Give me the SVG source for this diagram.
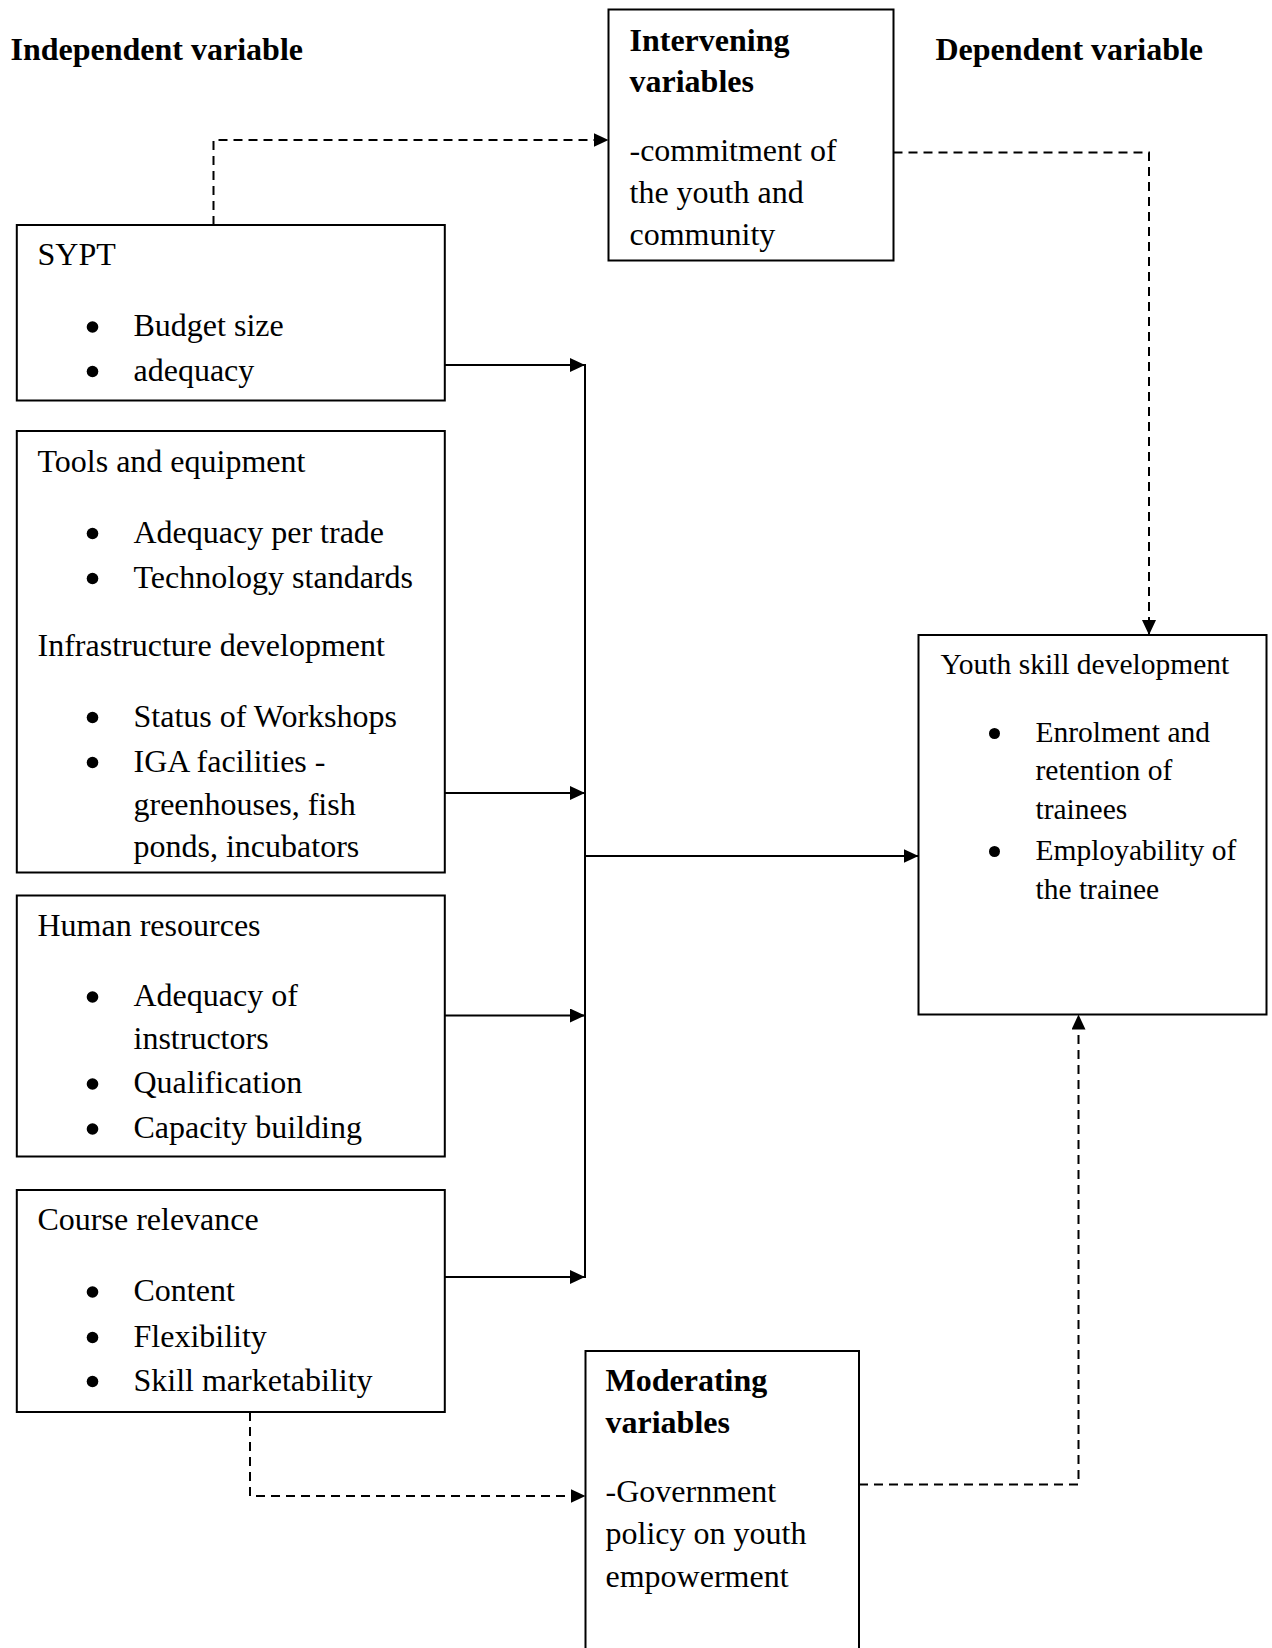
<svg xmlns="http://www.w3.org/2000/svg" width="1272" height="1648" viewBox="0 0 1272 1648">
<style>
text{font-family:"Liberation Serif","Times New Roman",serif;font-size:32px;fill:#000}
.b{font-weight:bold}
.sm{font-size:29.5px}
.dot{fill:#000}
.box{fill:#fff;stroke:#000;stroke-width:2}
.solid{fill:none;stroke:#000;stroke-width:2}
.dash{fill:none;stroke:#000;stroke-width:2;stroke-dasharray:9 6}
</style>
<defs>
<marker id="arr" markerUnits="userSpaceOnUse" markerWidth="16" markerHeight="15" refX="15" refY="7" orient="auto">
<path d="M0,0 L15,7 L0,14 z" fill="#000"/>
</marker>
</defs>
<rect width="1272" height="1648" fill="#fff"/>
<g id="headers">
<text class="b" x="10.5" y="60">Independent variable</text>
<text class="b" x="935.5" y="60">Dependent variable</text>
</g>
<g id="connectors">
<path class="solid" d="M445,365 H585" marker-end="url(#arr)"/>
<path class="solid" d="M445,793 H585" marker-end="url(#arr)"/>
<path class="solid" d="M445,1015.5 H585" marker-end="url(#arr)"/>
<path class="solid" d="M445,1277 H585" marker-end="url(#arr)"/>
<path class="solid" d="M585,364 V1278"/>
<path class="solid" d="M585,856 H918.5" marker-end="url(#arr)"/>
<path class="dash" d="M213.5,225 V140 H608.5" marker-end="url(#arr)"/>
<path class="dash" d="M893.5,152.5 H1149 V635" marker-end="url(#arr)"/>
<path class="dash" d="M250,1412 V1496 H585.5" marker-end="url(#arr)"/>
<path class="dash" d="M859,1484.5 H1078.5 V1014.5" marker-end="url(#arr)"/>
</g>
<g id="intervening">
<rect class="box" x="608.5" y="9.5" width="285" height="251"/>
<text class="b" x="629.5" y="50.5">Intervening</text>
<text class="b" x="629.5" y="91.5">variables</text>
<text x="629.5" y="161">-commitment of</text>
<text x="629.5" y="203">the youth and</text>
<text x="629.5" y="245">community</text>
</g>
<g id="sypt">
<rect class="box" x="16.8" y="225" width="428" height="175.5"/>
<text x="37.5" y="265">SYPT</text>
<circle class="dot" cx="92.5" cy="327" r="5.8"/><text x="133.5" y="336">Budget size</text>
<circle class="dot" cx="92.5" cy="371.5" r="5.8"/><text x="133.5" y="380.5">adequacy</text>
</g>
<g id="tools">
<rect class="box" x="16.8" y="431" width="428" height="441.5"/>
<text x="37.5" y="472">Tools and equipment</text>
<circle class="dot" cx="92.5" cy="533.5" r="5.8"/><text x="133.5" y="542.5">Adequacy per trade</text>
<circle class="dot" cx="92.5" cy="578.5" r="5.8"/><text x="133.5" y="587.5">Technology standards</text>
<text x="37.5" y="656">Infrastructure development</text>
<circle class="dot" cx="92.5" cy="717.5" r="5.8"/><text x="133.5" y="726.5">Status of Workshops</text>
<circle class="dot" cx="92.5" cy="762.5" r="5.8"/><text x="133.5" y="771.5">IGA facilities -</text>
<text x="133.5" y="814.5">greenhouses, fish</text>
<text x="133.5" y="856.5">ponds, incubators</text>
</g>
<g id="human">
<rect class="box" x="16.8" y="895.5" width="428" height="261"/>
<text x="37.5" y="935.5">Human resources</text>
<circle class="dot" cx="92.5" cy="997" r="5.8"/><text x="133.5" y="1006">Adequacy of</text>
<text x="133.5" y="1049">instructors</text>
<circle class="dot" cx="92.5" cy="1084" r="5.8"/><text x="133.5" y="1093">Qualification</text>
<circle class="dot" cx="92.5" cy="1129" r="5.8"/><text x="133.5" y="1138">Capacity building</text>
</g>
<g id="course">
<rect class="box" x="16.8" y="1190" width="428" height="222"/>
<text x="37.5" y="1230">Course relevance</text>
<circle class="dot" cx="92.5" cy="1292" r="5.8"/><text x="133.5" y="1301">Content</text>
<circle class="dot" cx="92.5" cy="1337.5" r="5.8"/><text x="133.5" y="1346.5">Flexibility</text>
<circle class="dot" cx="92.5" cy="1381.5" r="5.8"/><text x="133.5" y="1390.5">Skill marketability</text>
</g>
<g id="youth">
<rect class="box" x="918.5" y="635" width="348" height="379.5"/>
<text class="sm" x="940.5" y="674">Youth skill development</text>
<circle class="dot" cx="994.5" cy="733.5" r="5.5"/><text class="sm" x="1035.5" y="742">Enrolment and</text>
<text class="sm" x="1035.5" y="780">retention of</text>
<text class="sm" x="1035.5" y="819">trainees</text>
<circle class="dot" cx="994.5" cy="851.5" r="5.5"/><text class="sm" x="1035.5" y="860">Employability of</text>
<text class="sm" x="1035.5" y="899">the trainee</text>
</g>
<g id="moderating">
<rect class="box" x="585.5" y="1351" width="273.5" height="320"/>
<text class="b" x="605.5" y="1390.5">Moderating</text>
<text class="b" x="605.5" y="1433">variables</text>
<text x="605.5" y="1502">-Government</text>
<text x="605.5" y="1544">policy on youth</text>
<text x="605.5" y="1587">empowerment</text>
</g>
</svg>
